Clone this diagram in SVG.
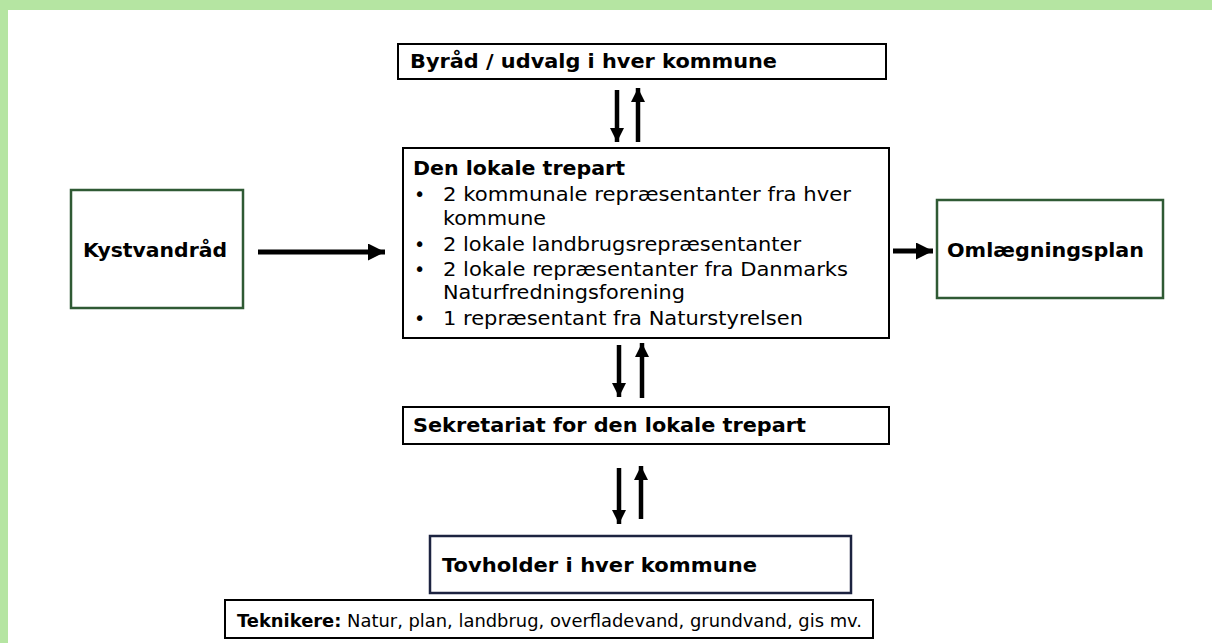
<svg xmlns="http://www.w3.org/2000/svg" width="1212" height="643" viewBox="0 0 1212 643">
<defs>
<style>
.bx{fill:#fff;stroke:#000;stroke-width:2}
.gb{fill:#fff;stroke:#2f5a34;stroke-width:2.5}
.nb{fill:#fff;stroke:#1c2340;stroke-width:2.5}
.t{font-family:"DejaVu Sans",Verdana,sans-serif;fill:#000}
.b{font-weight:bold}
.ln{stroke:#000;fill:none}
.v{stroke-width:4.5}
.h{stroke-width:5}
</style>
<marker id="av" viewBox="0 0 10 10" markerUnits="userSpaceOnUse" markerWidth="14" markerHeight="16" refX="10" refY="5" orient="auto"><path d="M0,0 L10,5 L0,10 z" fill="#000"/></marker>
<marker id="ah" viewBox="0 0 10 10" markerUnits="userSpaceOnUse" markerWidth="17" markerHeight="17" refX="10" refY="5" orient="auto"><path d="M0,0 L10,5 L0,10 z" fill="#000"/></marker>
</defs>
<rect x="0" y="0" width="1212" height="643" fill="#fff"/>
<rect x="0" y="0" width="1212" height="10" fill="#b5e5a2"/>
<rect x="0" y="0" width="8" height="643" fill="#b5e5a2"/>

<g id="connectors">
<line class="ln v" x1="617" y1="90" x2="617" y2="142" marker-end="url(#av)"/>
<line class="ln v" x1="638" y1="142" x2="638" y2="88" marker-end="url(#av)"/>
<line class="ln h" x1="258" y1="252" x2="385" y2="252" marker-end="url(#ah)"/>
<line class="ln h" x1="893" y1="251" x2="933" y2="251" marker-end="url(#ah)"/>
<line class="ln v" x1="619" y1="345" x2="619" y2="397" marker-end="url(#av)"/>
<line class="ln v" x1="642" y1="398" x2="642" y2="343" marker-end="url(#av)"/>
<line class="ln v" x1="619" y1="468" x2="619" y2="524" marker-end="url(#av)"/>
<line class="ln v" x1="641" y1="519" x2="641" y2="466" marker-end="url(#av)"/>
</g>

<g id="byraad">
<rect class="bx" x="398" y="44" width="488" height="35"/>
<text class="t b" x="410" y="68" font-size="19" textLength="367" lengthAdjust="spacingAndGlyphs">Byråd / udvalg i hver kommune</text>
</g>

<g id="trepart">
<rect class="bx" x="403" y="148" width="486" height="190"/>
<text class="t b" x="413" y="175" font-size="19" textLength="212" lengthAdjust="spacingAndGlyphs">Den lokale trepart</text>
<g class="t" font-size="19">
<text x="414" y="201">•</text><text x="443" y="201" textLength="408" lengthAdjust="spacingAndGlyphs">2 kommunale repræsentanter fra hver</text>
<text x="443" y="225" textLength="103" lengthAdjust="spacingAndGlyphs">kommune</text>
<text x="414" y="251">•</text><text x="443" y="251" textLength="358" lengthAdjust="spacingAndGlyphs">2 lokale landbrugsrepræsentanter</text>
<text x="414" y="276">•</text><text x="443" y="276" textLength="405" lengthAdjust="spacingAndGlyphs">2 lokale repræsentanter fra Danmarks</text>
<text x="443" y="299" textLength="242" lengthAdjust="spacingAndGlyphs">Naturfredningsforening</text>
<text x="414" y="325">•</text><text x="443" y="325" textLength="360" lengthAdjust="spacingAndGlyphs">1 repræsentant fra Naturstyrelsen</text>
</g>
</g>

<g id="kystvandraad">
<rect class="gb" x="71" y="190" width="172" height="118"/>
<text class="t b" x="83" y="257" font-size="19" textLength="144" lengthAdjust="spacingAndGlyphs">Kystvandråd</text>
</g>

<g id="omlaegningsplan">
<rect class="gb" x="937" y="200" width="226" height="98"/>
<text class="t b" x="947" y="257" font-size="19" textLength="197" lengthAdjust="spacingAndGlyphs">Omlægningsplan</text>
</g>

<g id="sekretariat">
<rect class="bx" x="403" y="407" width="486" height="37"/>
<text class="t b" x="413" y="432" font-size="19" textLength="393" lengthAdjust="spacingAndGlyphs">Sekretariat for den lokale trepart</text>
</g>

<g id="tovholder">
<rect class="nb" x="430" y="536" width="421" height="57"/>
<text class="t b" x="442" y="572" font-size="19" textLength="315" lengthAdjust="spacingAndGlyphs">Tovholder i hver kommune</text>
</g>

<g id="teknikere">
<rect class="bx" x="225" y="600" width="648" height="38" stroke-width="3"/>
<text class="t" x="237" y="627" font-size="17.5" textLength="625" lengthAdjust="spacingAndGlyphs"><tspan class="b">Teknikere:</tspan> Natur, plan, landbrug, overfladevand, grundvand, gis mv.</text>
</g>
</svg>
